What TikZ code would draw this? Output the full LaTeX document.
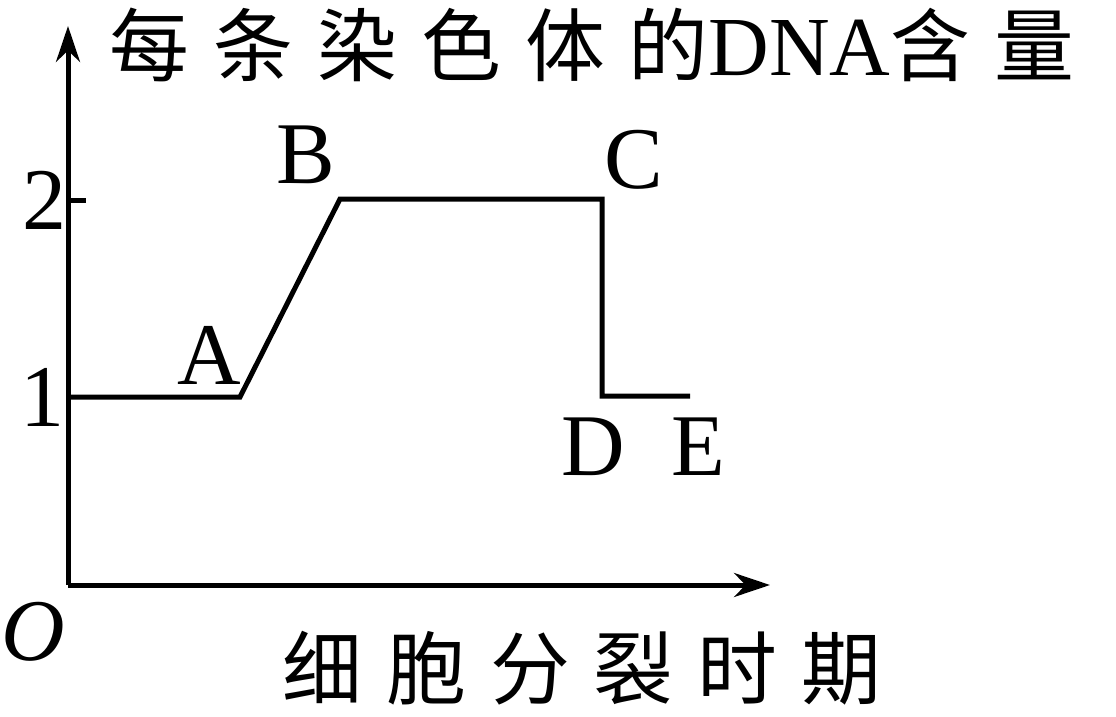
\documentclass[tikz,border=0pt]{standalone}
\usepackage{fontspec}
\setmainfont{Liberation Serif}
\newfontfamily\cjk{Noto Sans CJK SC}[Scale=0.95]
\usetikzlibrary{arrows.meta}
\newcommand{\gp}{\hspace{24pt}}
\begin{document}
\begin{tikzpicture}[x=1pt,y=-1pt,
  lbl/.style={font=\fontsize{88}{88}\selectfont,inner sep=0pt},
  cn/.style={font=\fontsize{84}{84}\selectfont,inner sep=0pt},
  ln/.style={line width=5pt,line join=miter}]
\useasboundingbox (0,0) rectangle (1116,717);
\coordinate (O) at (68,585);
\coordinate (ytop) at (68,26);
\coordinate (xend) at (770,585);
\draw[ln,-{Stealth[length=36pt,width=24pt]}] (O) -- (ytop);
\draw[ln,-{Stealth[length=36pt,width=24pt]}] (O) -- (xend);
\coordinate (t2) at (86,200);
\draw[ln] (68,200) -- (t2);
\coordinate (p0) at (68,397);
\coordinate (pA) at (240,397);
\coordinate (pB) at (340,199);
\coordinate (pC) at (602,199);
\coordinate (pD) at (602,396);
\coordinate (pE) at (690,396);
\draw[ln] (p0) -- (pA) -- (pB) -- (pC) -- (pD) -- (pE);
\node[lbl] (l2) at (44,200) {2};
\node[lbl] (l1) at (42,397) {1};
\node[lbl] (lO) at (33,632) {\textit{O}};
\node[lbl] (lA) at (209,355) {A};
\node[lbl] (lB) at (306,155) {B};
\node[lbl] (lC) at (634,160) {C};
\node[lbl] (lD) at (593,447) {D};
\node[lbl] (lE) at (698,447) {E};
\node[cn] (title) at (592,45) {{\cjk 每\gp 条\gp 染\gp 色\gp 体\gp 的}DNA{\cjk 含\gp 量}};
\node[cn] (xl) at (582,668) {\cjk 细\gp 胞\gp 分\gp 裂\gp 时\gp 期};
\end{tikzpicture}
\end{document}
